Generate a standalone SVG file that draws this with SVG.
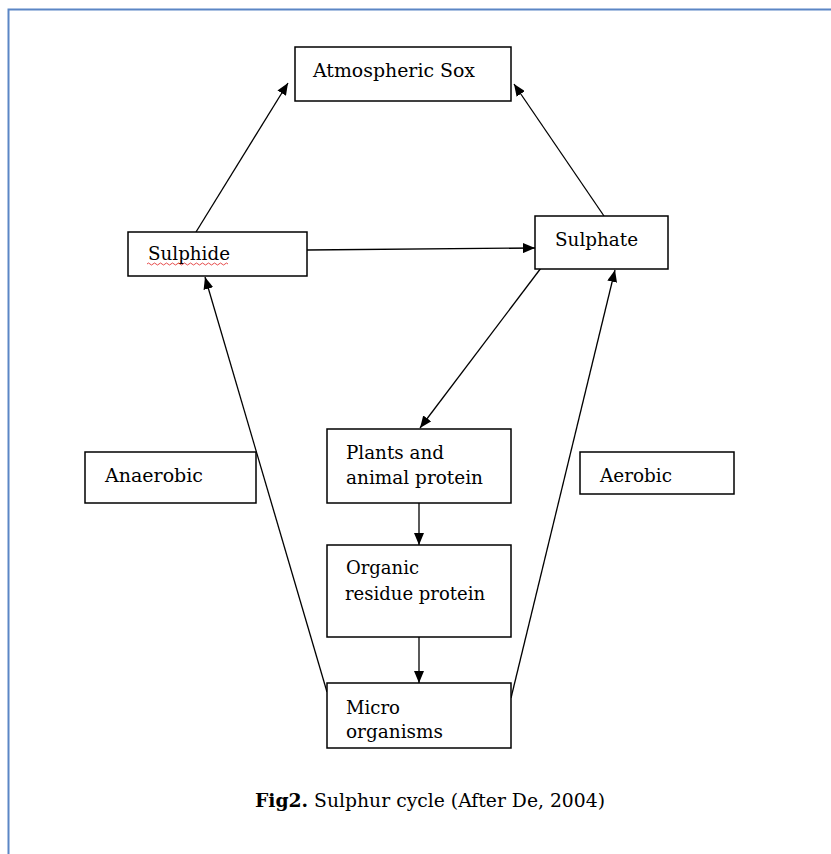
<svg xmlns="http://www.w3.org/2000/svg" width="831" height="854" viewBox="0 0 831 854">
<style>
.box{fill:#fff;stroke:#000;stroke-width:1.5}
.t{font-family:"DejaVu Serif","Liberation Serif",serif;font-size:18.5px;fill:#000}
.c{stroke:#000;stroke-width:1.3;fill:none}
</style>
<defs>
<marker id="ah" viewBox="0 0 12 10" refX="12" refY="5" markerWidth="12" markerHeight="10" markerUnits="userSpaceOnUse" orient="auto">
<path d="M0,0 L12,5 L0,10 z" fill="#000"/>
</marker>
</defs>
<rect width="831" height="854" fill="#fff"/>
<path d="M8.5,854 V9.5 H831" fill="none" stroke="#5b86c5" stroke-width="2"/>
<g id="connectors">
<line class="c" x1="196" y1="232" x2="288" y2="83" marker-end="url(#ah)"/>
<line class="c" x1="604" y1="216" x2="514" y2="84" marker-end="url(#ah)"/>
<line class="c" x1="307" y1="250" x2="535" y2="248" marker-end="url(#ah)"/>
<line class="c" x1="541" y1="268" x2="420" y2="428" marker-end="url(#ah)"/>
<line class="c" x1="327" y1="692" x2="205" y2="277" marker-end="url(#ah)"/>
<line class="c" x1="511" y1="698" x2="615" y2="270" marker-end="url(#ah)"/>
<line class="c" x1="419" y1="503" x2="419" y2="545" marker-end="url(#ah)"/>
<line class="c" x1="419" y1="637" x2="419" y2="683" marker-end="url(#ah)"/>
</g>
<g id="atmospheric">
<rect class="box" x="295" y="47" width="216" height="54"/>
<text class="t" x="313" y="77" textLength="162" lengthAdjust="spacingAndGlyphs">Atmospheric Sox</text>
</g>
<g id="sulphide">
<rect class="box" x="128" y="232" width="179" height="44"/>
<text class="t" x="148" y="260" textLength="82" lengthAdjust="spacingAndGlyphs">Sulphide</text>
<path d="M147,264 q1.5,-2 3,0 t3,0 t3,0 t3,0 t3,0 t3,0 t3,0 t3,0 t3,0 t3,0 t3,0 t3,0 t3,0 t3,0 t3,0 t3,0 t3,0 t3,0 t3,0 t3,0 t3,0 t3,0 t3,0 t3,0 t3,0 t3,0 t3,0" fill="none" stroke="#e02020" stroke-width="0.8"/>
</g>
<g id="sulphate">
<rect class="box" x="535" y="216" width="133" height="53"/>
<text class="t" x="555" y="246" textLength="83" lengthAdjust="spacingAndGlyphs">Sulphate</text>
</g>
<g id="plants">
<rect class="box" x="327" y="429" width="184" height="74"/>
<text class="t" x="346" y="459" textLength="98" lengthAdjust="spacingAndGlyphs">Plants and</text>
<text class="t" x="346" y="484" textLength="137" lengthAdjust="spacingAndGlyphs">animal protein</text>
</g>
<g id="organic">
<rect class="box" x="327" y="545" width="184" height="92"/>
<text class="t" x="346" y="574" textLength="73" lengthAdjust="spacingAndGlyphs">Organic</text>
<text class="t" x="345" y="600" textLength="140" lengthAdjust="spacingAndGlyphs">residue protein</text>
</g>
<g id="micro">
<rect class="box" x="327" y="683" width="184" height="65"/>
<text class="t" x="346" y="714" textLength="54" lengthAdjust="spacingAndGlyphs">Micro</text>
<text class="t" x="346" y="738" textLength="97" lengthAdjust="spacingAndGlyphs">organisms</text>
</g>
<g id="anaerobic">
<rect class="box" x="85" y="452" width="171" height="51"/>
<text class="t" x="105" y="482" textLength="98" lengthAdjust="spacingAndGlyphs">Anaerobic</text>
</g>
<g id="aerobic">
<rect class="box" x="580" y="452" width="154" height="42"/>
<text class="t" x="600" y="482" textLength="72" lengthAdjust="spacingAndGlyphs">Aerobic</text>
</g>
<text class="t" x="255" y="807" textLength="350" lengthAdjust="spacingAndGlyphs"><tspan font-weight="bold">Fig2.</tspan> Sulphur cycle (After De, 2004)</text>
</svg>
